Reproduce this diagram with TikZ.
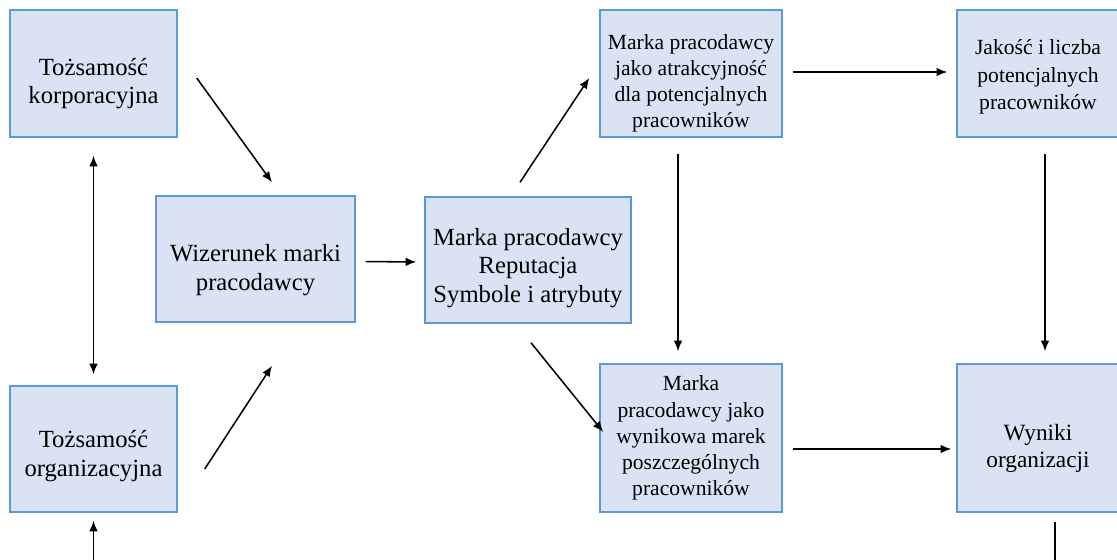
\documentclass[tikz,border=0pt]{standalone}
\usepackage{fontspec}
\setmainfont{Liberation Serif}
\usetikzlibrary{arrows.meta}
\definecolor{boxfill}{HTML}{DAE3F3}
\definecolor{boxline}{HTML}{5B9BD5}
\begin{document}
\begin{tikzpicture}[x=0.75pt,y=-0.75pt,>={Latex[length=8pt,width=6.5pt]},
		every node/.style={align=center},
		mybox/.style={draw=boxline,fill=boxfill,line width=1.1pt,inner sep=0pt},
		bigtext/.style={font=\fontsize{18.5}{21.5}\selectfont},
		smalltext/.style={font=\fontsize{16.2}{19.6}\selectfont},
		arrowstyle/.style={->,line width=1.15pt}]
		
		\useasboundingbox (0,0) rectangle (1117,560);
		
		\node[mybox,minimum width=125.25pt,minimum height=95.25pt,label={[bigtext,yshift=-7.5pt]center:{Tożsamość\\korporacyjna}}](korp) at (93.5,73.5) {};
		\node[mybox,minimum width=125.25pt,minimum height=94.5pt,label={[bigtext,yshift=-5.5pt]center:{Tożsamość\\organizacyjna}}](org) at (93.5,449) {};
		\node[mybox,minimum width=149.25pt,minimum height=94.5pt,label={[bigtext,yshift=-8.5pt]center:{Wizerunek marki\\pracodawcy}}](wiz) at (255.5,259) {};
		\node[mybox,minimum width=154.5pt,minimum height=94.5pt,label={[bigtext,yshift=-6pt]center:{Marka pracodawcy\\Reputacja\\Symbole i atrybuty}}](rep) at (528,260) {};
		\node[mybox,minimum width=136.5pt,minimum height=95.25pt,label={[smalltext,yshift=-7.5pt]center:{Marka pracodawcy\\jako atrakcyjność\\dla potencjalnych\\pracowników}}](atr) at (691,73.5) {};
		\node[mybox,minimum width=136.5pt,minimum height=111pt,label={[smalltext]center:{Marka\\pracodawcy jako\\wynikowa marek\\poszczególnych\\pracowników}}](wyn) at (691,438) {};
		\node[mybox,minimum width=121.5pt,minimum height=95.25pt,label={[font=\fontsize{16.2}{20.8}\selectfont,yshift=-2.5pt]center:{Jakość i liczba\\potencjalnych\\pracowników}}](jak) at (1038,73.5) {};
		\node[mybox,minimum width=121.5pt,minimum height=111pt,label={[font=\fontsize{17.5}{20.5}\selectfont,yshift=-8pt]center:{Wyniki\\organizacji}}](wyniki) at (1038,438) {};
		
		\coordinate (dol1) at (93.5,560);
		\coordinate (dol2) at (1055,560);
		
		\draw[arrowstyle,<->,shorten <=13.5pt,shorten >=8.25pt] (korp.south) -- (org.north);
		\draw[arrowstyle,shorten >=6pt] (dol1) -- (org.south);
		\draw[line width=1.15pt,shorten <=6.75pt] (wyniki.south -| dol2) -- (dol2);
		
		\draw[arrowstyle] ([shift={(19,4.5)}]korp.east) -- ([shift={(16.5,-13)}]wiz.north);
		\draw[arrowstyle] ([shift={(27,20)}]org.east) -- ([shift={(16.5,43)}]wiz.south);
		\draw[arrowstyle,shorten <=7.5pt,shorten >=6pt] ([shift={(0,2.5)}]wiz.east) -- ([shift={(0,2)}]rep.west);
		\draw[arrowstyle] ([shift={(-8,-14)}]rep.north) -- ([shift={(-10,4.5)}]atr.west);
		\draw[arrowstyle] ([shift={(3,19)}]rep.south) -- ([shift={(4,-6)}]wyn.west);
		
		\draw[arrowstyle,shorten <=7.5pt,shorten >=6.75pt] ([shift={(0,-1.5)}]atr.east) -- ([shift={(0,-1.5)}]jak.west);
		\draw[arrowstyle,shorten <=7.5pt,shorten >=3.75pt] ([shift={(0,11)}]wyn.east) -- ([shift={(0,11)}]wyniki.west);
		\draw[arrowstyle,shorten <=12pt,shorten >=9pt] ([shift={(-13,0)}]atr.south) -- ([shift={(-13,0)}]wyn.north);
		\draw[arrowstyle,shorten <=12pt,shorten >=9pt] ([shift={(7,0)}]jak.south) -- ([shift={(7,0)}]wyniki.north);
		\end{tikzpicture}
\end{document}
